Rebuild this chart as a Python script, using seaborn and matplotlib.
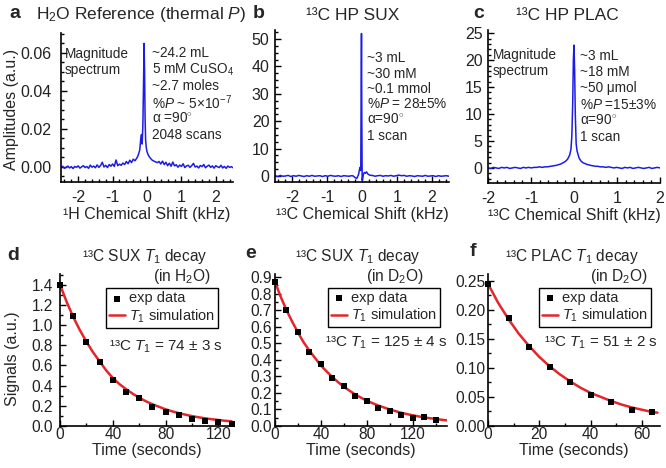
import numpy as np
import pandas as pd
import matplotlib
matplotlib.use('Agg')
import matplotlib.pyplot as plt
import seaborn as sns
from matplotlib.ticker import MultipleLocator

# ---- spectrum a (H2O reference, amplitudes in units of 1e-3) ----
a_left_amp = [-0.5, 0.3, -0.8, -0.2, 0.4, -0.6, 0.1, -0.9, 0.2, -0.3, 0.5, -0.7, 0.0, 0.6, -0.4,
              0.2, -0.8, 0.9, -0.2, 0.4, -0.5, 1.0, -0.3, 0.7, 2.4, -0.1, 0.8, -0.4, 1.2, 0.3,
              1.5, 0.2, 3.6, 0.6, 1.4, 0.8, 2.0, 1.2, 2.8, 1.6, 3.5, 2.2, 4.0, 3.2]
a_peak_shift = [-0.30, -0.27, -0.24, -0.21, -0.18, -0.16, -0.14, -0.12, -0.10, -0.085, -0.07,
                -0.055, -0.04, -0.02, 0.0, 0.03, 0.06, 0.10, 0.15, 0.20, 0.25, 0.30]
a_peak_amp = [4.5, 5.5, 7.0, 9.0, 15.0, 17.0, 12.0, 22.0, 45.0, 65.0, 50.0,
              25.0, 14.0, 10.0, 8.0, 6.5, 5.5, 4.5, 3.5, 3.0, 2.6, 2.2]
a_right_amp = [2.8, 1.5, 3.0, 1.2, 2.4, 0.6, 1.9, 0.3, 2.5, 0.5, 1.1, -0.2, 0.9, 0.2, 1.6,
               -0.4, 0.5, 0.8, -0.3, 0.6, 1.8, -0.1, 0.4, -0.6, 0.7, 0.1, 1.2, -0.5, 0.3, 0.9,
               -0.3, 0.5, -0.7, 0.6, 0.0, -0.4, 0.8, -0.6, 0.2, -0.8, 0.4, -0.3, 0.1, -0.5]

# ---- spectrum b (13C HP SUX) ----
b_left_amp = [0.1, -0.2, 0.2, -0.1, 0.0, 0.2, -0.2, 0.1, -0.1, 0.2, 0.0, -0.2, 0.1, -0.1, 0.2,
              -0.1, 0.0, 0.1, -0.2, 0.1, -0.1, 0.2, 0.0, -0.1, 0.1, -0.2, 0.1, 0.0, -0.1, 0.1]
b_peak_shift = [-0.25, -0.20, -0.15, -0.10, -0.07, -0.05, -0.035, -0.025, -0.015, -0.005,
                0.005, 0.02, 0.04, 0.07, 0.10, 0.13, 0.17, 0.22, 0.27]
b_peak_amp = [0.0, -0.6, -0.9, 0.5, 2.5, 3.2, 2.0, 30.0, 52.0, 20.0,
              -1.6, -0.8, 0.6, 1.3, 1.0, 1.5, 0.7, 0.3, 0.2]
b_right_amp = [0.2, -0.1, 0.1, 0.2, -0.1, 0.1, 0.0, 0.2, -0.1, 0.1, 0.3, 0.1, 0.2, -0.1, 0.1,
               0.0, -0.2, 0.1, 0.0, -0.1, 0.2, -0.1, 0.0, 0.1, -0.2, 0.1, -0.1, 0.0, 0.1, -0.1]

# ---- spectrum c (13C HP PLAC) ----
c_left_amp = [0.0, -0.1, 0.1, 0.0, -0.1, 0.1, 0.0, 0.1, -0.1, 0.0, 0.1, 0.0, -0.1, 0.1, 0.0,
              0.1, 0.0, 0.1, 0.1, 0.2, 0.1, 0.2, 0.2, 0.3]
c_peak_shift = [-0.50, -0.40, -0.30, -0.20, -0.15, -0.10, -0.07, -0.05, -0.03, -0.015, 0.0,
                0.015, 0.03, 0.05, 0.07, 0.09, 0.12, 0.16, 0.20, 0.30, 0.40, 0.50]
c_peak_amp = [0.35, 0.5, 0.75, 1.2, 1.6, 2.4, 3.5, 6.0, 12.0, 20.0, 22.8,
              18.0, 10.0, 4.5, 3.2, 2.6, 1.8, 1.3, 1.0, 0.65, 0.45, 0.3]
c_right_amp = [0.3, 0.2, 0.2, 0.1, 0.2, 0.1, 0.0, 0.1, 0.0, -0.1, 0.1, 0.0, 0.1, -0.1, 0.0,
               0.1, 0.0, -0.1, 0.0, 0.1, -0.1, 0.0, 0.1, 0.0]

# ---- T1 decays ----
d_time = [0, 10, 20, 30, 40, 50, 60, 70, 80, 90, 100, 110, 120, 130]
d_signal = [1.40, 1.09, 0.836, 0.633, 0.459, 0.334, 0.275, 0.187, 0.137, 0.105, 0.072, 0.046, 0.043, 0.023]
d_fit_time = [0, 5, 10, 15, 20, 25, 30, 35, 40, 45, 50, 55, 60, 65, 70, 75, 80, 85, 90, 95, 100,
              105, 110, 115, 120, 125, 130]
d_fit = [1.40, 1.23, 1.08, 0.95, 0.835, 0.73, 0.64, 0.55, 0.475, 0.415, 0.365, 0.32, 0.28, 0.245,
         0.215, 0.19, 0.165, 0.145, 0.127, 0.112, 0.098, 0.086, 0.076, 0.067, 0.059, 0.052, 0.046]

e_time = [0, 10, 20, 30, 40, 50, 60, 70, 80, 90, 100, 110, 120, 130, 140]
e_signal = [0.87, 0.70, 0.566, 0.446, 0.374, 0.29, 0.244, 0.184, 0.15, 0.11, 0.088, 0.068, 0.048, 0.054, 0.034]
e_fit_time = [0, 5, 10, 15, 20, 25, 30, 35, 40, 45, 50, 55, 60, 65, 70, 75, 80, 85, 90, 95, 100,
              105, 110, 115, 120, 125, 130, 135, 140, 145, 150]
e_fit = [0.87, 0.78, 0.70, 0.63, 0.565, 0.505, 0.455, 0.41, 0.365, 0.33, 0.295, 0.265, 0.237, 0.213,
         0.19, 0.171, 0.153, 0.138, 0.124, 0.112, 0.10, 0.09, 0.08, 0.072, 0.065, 0.058, 0.052,
         0.047, 0.042, 0.038, 0.034]

f_time = [0, 8, 16, 24, 32, 40, 48, 56, 64]
f_signal = [0.244, 0.187, 0.136, 0.102, 0.076, 0.053, 0.041, 0.027, 0.024]
f_fit_time = [0, 4, 8, 12, 16, 20, 24, 28, 32, 36, 40, 44, 48, 52, 56, 60, 64, 66]
f_fit = [0.245, 0.212, 0.184, 0.159, 0.138, 0.119, 0.103, 0.089, 0.077, 0.066, 0.057, 0.050,
         0.043, 0.037, 0.032, 0.028, 0.024, 0.023]

BLUE = '#1c1ce6'
RED = '#e3262b'

sns.set_style('ticks')
plt.rcParams['font.family'] = ['Liberation Sans', 'DejaVu Sans']
plt.rcParams['mathtext.fontset'] = 'custom'
plt.rcParams['mathtext.rm'] = 'Liberation Sans'
plt.rcParams['mathtext.it'] = 'Liberation Sans:italic'
plt.rcParams['mathtext.bf'] = 'Liberation Sans:bold'
plt.rcParams['axes.unicode_minus'] = False

W, H = 666, 468
fig = plt.figure(figsize=(W / 100, H / 100), dpi=100)
fig.patch.set_facecolor('white')


def box(left, top, right, bottom):
    # pixel box -> figure fraction
    return [left / W, 1 - bottom / H, (right - left) / W, (bottom - top) / H]


def txt(x, y, s, **kw):
    kw.setdefault('va', 'center')
    kw.setdefault('ha', 'left')
    fig.text(x / W, 1 - y / H, s, **kw)


def style(ax, xpad, ypad, size):
    sns.despine(ax=ax)
    for side in ['left', 'bottom']:
        ax.spines[side].set_linewidth(1.2)
        ax.spines[side].set_color('black')
    ax.tick_params(which='both', direction='in', labelsize=size, width=1.0,
                   color='black', labelcolor='#222222')
    ax.tick_params(axis='x', pad=xpad)
    ax.tick_params(axis='y', pad=ypad)
    ax.tick_params(which='major', length=4)
    ax.tick_params(which='minor', length=2)
    ax.grid(False)


def spectrum(left_amp, left_range, p_shift, p_amp, right_amp, right_range, scale):
    x = np.concatenate([np.linspace(*left_range, len(left_amp)), p_shift,
                        np.linspace(*right_range, len(right_amp))])
    y = np.concatenate([left_amp, p_amp, right_amp]) * scale
    return pd.DataFrame({'shift': x, 'amp': y})


spec_a = spectrum(a_left_amp, (-2.5, -0.35), a_peak_shift, a_peak_amp, a_right_amp, (0.35, 2.5), 1e-3)
spec_b = spectrum(b_left_amp, (-2.5, -0.3), b_peak_shift, b_peak_amp, b_right_amp, (0.3, 2.5), 1.0)
spec_c = spectrum(c_left_amp, (-2.0, -0.55), c_peak_shift, c_peak_amp, c_right_amp, (0.55, 2.0), 1.0)

# ---------- top row: spectra ----------
ax_a = fig.add_axes(box(61, 33, 233, 182))
ax_b = fig.add_axes(box(275, 30, 449, 182))
ax_c = fig.add_axes(box(488, 30, 660, 183))

for ax, spec, xl, yl, ymaj, ymin_, ypad, xlab in [
        (ax_a, spec_a, (-2.5, 2.5), (-0.008, 0.0705), 0.02, 0.005, 7, '¹H Chemical Shift (kHz)'),
        (ax_b, spec_b, (-2.5, 2.5), (-2.2, 53.3), 10, 2.5, 4, '¹³C Chemical Shift (kHz)'),
        (ax_c, spec_c, (-2.0, 2.0), (-2.8, 25.6), 5, 1, 4, '¹³C Chemical Shift (kHz)')]:
    sns.lineplot(data=spec, x='shift', y='amp', ax=ax, color=BLUE, lw=1.1,
                 estimator=None, sort=False)
    ax.set_xlim(*xl)
    ax.set_ylim(*yl)
    ax.xaxis.set_major_locator(MultipleLocator(1))
    ax.xaxis.set_minor_locator(MultipleLocator(0.2))
    ax.yaxis.set_major_locator(MultipleLocator(ymaj))
    ax.yaxis.set_minor_locator(MultipleLocator(ymin_))
    style(ax, 6, ypad, 11.5)
    ax.set_xlabel(xlab, fontsize=11.5)
    ax.xaxis.set_label_coords(0.5, -0.215)
    ax.xaxis.label.set_va('center')
    ax.set_ylabel('')

ax_a.set_ylabel('Amplitudes (a.u.)', fontsize=11.5)
ax_a.yaxis.label.set_va('center')
ax_a.yaxis.set_label_coords(-0.285, 0.485)

# panel letters and titles
for x, y, s in [(9, 13, 'a'), (253, 13, 'b'), (473, 13, 'c'),
                (7, 255, 'd'), (245, 253, 'e'), (470, 252, 'f')]:
    txt(x, y, s, fontsize=14, fontweight='bold')
txt(36, 15, 'H$_2$O Reference (thermal $P$)', fontsize=12.5)
txt(306, 15, '¹³C HP SUX', fontsize=12.5)
txt(516, 15, '¹³C HP PLAC', fontsize=12.5)

# spectrum annotations
fs = 9.8
txt(65, 54, 'Magnitude', fontsize=fs)
txt(65, 70, 'spectrum', fontsize=fs)
for i, s in enumerate(['~24.2 mL', '5 mM CuSO$_4$', '~2.7 moles',
                       '%$P$ ~ 5×10$^{-7}$', 'α =90$^{\\circ}$', '2048 scans']):
    txt(152, 53 + 16.4 * i, s, fontsize=fs)
for i, s in enumerate(['~3 mL', '~30 mM', '~0.1 mmol',
                       '%$P$ = 28±5%', 'α=90$^{\\circ}$', '1 scan']):
    txt(367, 58 + 15.5 * i, s, fontsize=fs)
txt(493, 55, 'Magnitude', fontsize=fs)
txt(493, 71, 'spectrum', fontsize=fs)
for i, s in enumerate(['~3 mL', '~18 mM', '~50 μmol',
                       '%$P$ =15±3%', 'α=90$^{\\circ}$', '1 scan']):
    txt(580, 56 + 16.2 * i, s, fontsize=fs)

# ---------- bottom row: T1 decays ----------
ax_d = fig.add_axes(box(60, 274, 233, 426))
ax_e = fig.add_axes(box(275, 274, 447, 426))
ax_f = fig.add_axes(box(488, 274, 660, 426))

panels = [
    (ax_d, d_time, d_signal, d_fit_time, d_fit, (0, 131), (0, 1.505), 40, 20, 0.2, 0.1, 5,
     (0.915, 0.905), '74 ± 3 s', 0.94, 0.52),
    (ax_e, e_time, e_signal, e_fit_time, e_fit, (0, 150), (0, 0.918), 40, 20, 0.1, 0.05, 2,
     (0.96, 0.908), '125 ± 4 s', 1.0, 0.55),
    (ax_f, f_time, f_signal, f_fit_time, f_fit, (0, 67), (0, 0.262), 20, 10, 0.05, 0.025, 2,
     (0.948, 0.908), '51 ± 2 s', 0.99, 0.55),
]
for (ax, t, s, ft, fv, xl, yl, xmaj, xmin_, ymaj, ymin_, ypad, leg_anchor, t1, tx, ty) in panels:
    sns.lineplot(x=ft, y=fv, ax=ax, color=RED, lw=1.8, estimator=None,
                 label='$T_1$ simulation', zorder=2)
    sns.scatterplot(x=t, y=s, ax=ax, color='black', marker='s', s=14, edgecolor='black',
                    linewidth=0, label='exp data', zorder=3, clip_on=False)
    ax.set_xlim(*xl)
    ax.set_ylim(*yl)
    ax.xaxis.set_major_locator(MultipleLocator(xmaj))
    ax.xaxis.set_minor_locator(MultipleLocator(xmin_))
    ax.yaxis.set_major_locator(MultipleLocator(ymaj))
    ax.yaxis.set_minor_locator(MultipleLocator(ymin_))
    style(ax, 1, ypad, 11.2)
    handles, labels = ax.get_legend_handles_labels()
    leg = ax.legend(handles[::-1], labels[::-1], loc='upper right', bbox_to_anchor=leg_anchor,
                    fontsize=10.5, frameon=True, fancybox=False, framealpha=1,
                    edgecolor='black', handlelength=1.1, handletextpad=0.3,
                    borderpad=0.2, labelspacing=0.15, borderaxespad=0)
    leg.get_frame().set_linewidth(1.0)
    ax.text(tx, ty, '¹³C $T_1$ = ' + t1, transform=ax.transAxes, ha='right', va='center',
            fontsize=11)
    ax.set_xlabel('Time (seconds)', fontsize=11.5)
    ax.xaxis.set_label_coords(0.5, -0.16)
    ax.xaxis.label.set_va('center')
    ax.set_ylabel('')

ax_d.set_ylabel('Signals (a.u.)', fontsize=11.5)
ax_d.yaxis.label.set_va('center')
ax_d.yaxis.set_label_coords(-0.277, 0.44)

# two-line titles of the decay panels
fs2 = 11.2
txt(82, 257, '¹³C SUX $T_1$ decay', fontsize=fs2)
txt(211, 277, '(in H$_2$O)', fontsize=fs2, ha='right')
txt(295, 257, '¹³C SUX $T_1$ decay', fontsize=fs2)
txt(424, 277, '(in D$_2$O)', fontsize=fs2, ha='right')
txt(505, 257, '¹³C PLAC $T_1$ decay', fontsize=fs2)
txt(648, 277, '(in D$_2$O)', fontsize=fs2, ha='right')

fig.savefig('out.png', dpi=100, facecolor='white')
